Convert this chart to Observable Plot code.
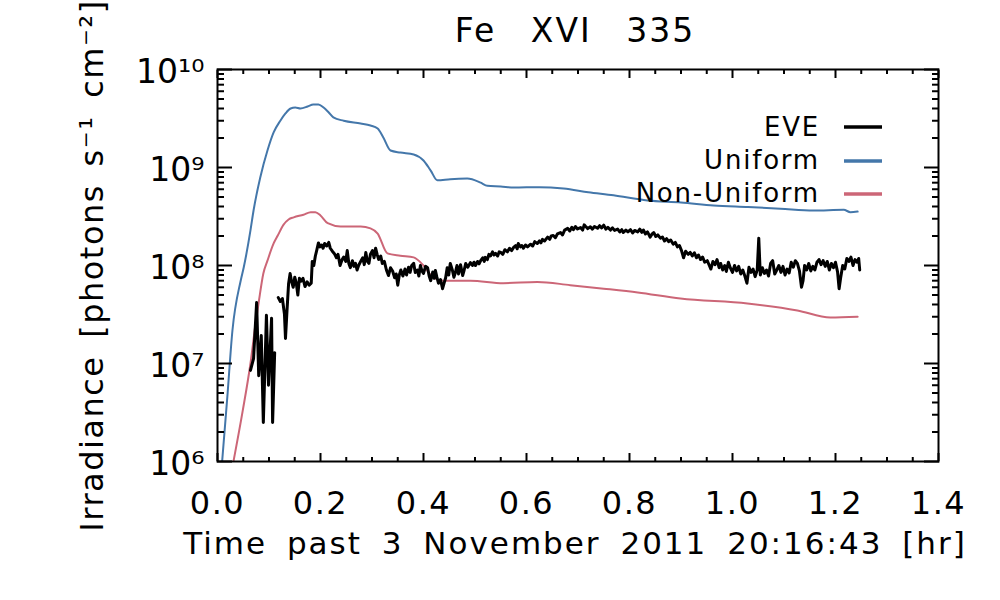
<!DOCTYPE html>
<html><head><meta charset="utf-8">
<script src="https://cdn.jsdelivr.net/npm/d3@7"></script>
<script src="https://cdn.jsdelivr.net/npm/@observablehq/plot@0.6"></script>
<style>
body{margin:0;background:#fff;}
#wrap{position:relative;width:1000px;height:600px;}
#wrap svg{position:absolute;left:0;top:0;}
</style>
</head><body>
<div id="wrap"></div>
<script>
const titleText = "Fe XVI 335";
const xLabel = "Time past 3 November 2011 20:16:43 [hr]";
const yLabel = "Irradiance [photons s⁻¹ cm⁻²]";

const xTicks = [0, 0.2, 0.4, 0.6, 0.8, 1.0, 1.2, 1.4];
const xTickLabels = ["0.0","0.2","0.4","0.6","0.8","1.0","1.2","1.4"];
const yTicks = [1e6, 1e7, 1e8, 1e9, 1e10];
const yTickLabels = ["10⁶","10⁷","10⁸","10⁹","10¹⁰"];

const legendNames = ["EVE", "Uniform", "Non-Uniform"];
const legendColors = ["#000000", "#4477AA", "#CC6677"];

// Uniform model
const uniformT = [0.009,0.019,0.029,0.045,0.051,0.064,0.070,0.083,0.097,0.109,0.122,0.132,0.142,0.151,0.161,0.175,0.186,0.196,0.206,0.216,0.225,0.245,0.278,0.297,0.311,0.322,0.336,0.355,0.381,0.400,0.414,0.427,0.452,0.485,0.511,0.524,0.550,0.575,0.625,0.672,0.720,0.769,0.835,0.900,0.963,1.030,1.093,1.157,1.216,1.229,1.243];
const uniformV = [1.0e6,4.5e6,2.17e7,7.0e7,9.6e7,2.28e8,3.64e8,7.9e8,1.49e9,2.28e9,3.0e9,3.56e9,4.0e9,4.09e9,4.0e9,4.19e9,4.4e9,4.4e9,4.09e9,3.64e9,3.24e9,3.0e9,2.81e9,2.68e9,2.5e9,2.02e9,1.49e9,1.42e9,1.36e9,1.18e9,9.3e8,7.4e8,7.6e8,7.7e8,7.0e8,6.5e8,6.4e8,6.25e8,6.3e8,6.1e8,5.6e8,5.2e8,4.6e8,4.4e8,4.1e8,3.95e8,3.8e8,3.64e8,3.7e8,3.5e8,3.55e8];

// Non-uniform model
const nonUniformT = [0.031,0.049,0.064,0.074,0.080,0.089,0.097,0.109,0.117,0.128,0.138,0.148,0.167,0.181,0.190,0.200,0.214,0.239,0.278,0.297,0.311,0.330,0.355,0.381,0.400,0.419,0.439,0.491,0.555,0.621,0.685,0.750,0.816,0.899,1.029,1.126,1.190,1.243];
const nonUniformV = [1.0e6,3.3e6,1.0e7,2.56e7,4.2e7,8.3e7,1.12e8,1.68e8,2.02e8,2.6e8,2.95e8,3.1e8,3.3e8,3.5e8,3.5e8,3.24e8,2.7e8,2.5e8,2.5e8,2.39e8,2.12e8,1.33e8,1.26e8,1.21e8,1.0e8,7.5e7,7.0e7,7.0e7,6.6e7,6.8e7,6.3e7,5.8e7,5.3e7,4.6e7,4.1e7,3.48e7,2.95e7,3.0e7];

// EVE observation (NaN marks the data gap)
const eveT = [0.064,0.070,0.076,0.080,0.085,0.089,0.095,0.099,0.105,0.107,0.111,0.114,
0.118,0.122,0.126,0.130,0.132,0.135,0.138,0.141,0.144,0.147,0.150,0.153,0.156,0.159,0.162,0.166,0.170,0.174,0.178,0.182,0.184,0.187,0.190,0.193,0.196,0.199,0.202,0.205,0.208,0.212,0.216,0.219,0.223,0.227,0.231,0.234,0.238,0.242,0.245,0.249,0.252,0.255,0.258,0.262,0.265,0.268,0.271,0.274,0.278,0.282,0.285,0.288,0.291,0.294,0.297,0.301,0.304,0.307,0.310,0.313,0.317,0.320,0.324,0.328,0.332,0.336,0.340,0.344,0.347,0.350,0.353,0.356,0.360,0.364,0.367,0.371,0.374,0.377,0.381,0.384,0.388,0.391,0.394,0.397,0.400,0.404,0.408,0.411,0.414,0.418,0.421,0.423,0.426,0.429,0.433,0.437,0.440,0.443,0.446,0.449,0.452,0.456,0.459,0.462,0.465,0.468,0.472,0.476,0.479,0.482,0.486,0.491,0.495,0.498,0.501,0.505,0.508,0.511,0.515,0.518,0.520,0.524,0.527,0.530,0.534,0.537,0.540,0.544,0.547,0.550,0.554,0.558,0.563,0.567,0.571,0.575,0.579,0.582,0.584,0.588,0.591,0.594,0.598,0.602,0.608,0.612,0.616,0.621,0.625,0.628,0.631,0.635,0.641,0.645,0.648,0.652,0.656,0.660,0.666,0.670,0.674,0.680,0.684,0.688,0.691,0.695,0.699,0.705,0.709,0.712,0.715,0.719,0.724,0.728,0.732,0.738,0.742,0.746,0.750,0.754,0.758,0.763,0.767,0.771,0.777,0.781,0.785,0.788,0.793,0.797,0.802,0.806,0.810,0.816,0.820,0.824,0.827,0.831,0.835,0.840,0.844,0.847,0.851,0.855,0.860,0.864,0.868,0.872,0.876,0.880,0.885,0.889,0.893,0.897,0.901,0.905,0.909,0.914,0.918,0.922,0.926,0.930,0.934,0.938,0.942,0.946,0.951,0.955,0.958,0.962,0.966,0.970,0.974,0.977,0.981,0.985,0.988,0.992,0.996,1.000,1.004,1.008,1.012,1.016,1.020,1.024,1.028,1.032,1.036,1.040,1.044,1.048,1.051,1.054,1.058,1.062,1.066,1.070,1.074,1.078,1.082,1.086,1.090,1.094,1.098,1.102,1.106,1.110,1.114,1.118,1.122,1.126,1.130,1.134,1.137,1.140,1.144,1.148,1.152,1.156,1.160,1.164,1.168,1.172,1.176,1.180,1.184,1.188,1.192,1.196,1.200,1.204,1.207,1.210,1.214,1.218,1.222,1.226,1.230,1.234,1.238,1.242,1.245,1.247];
const eveV = [8.5e6,1.12e7,4.2e7,7.5e6,1.93e7,2.5e6,3.1e7,6.0e6,2.9e7,2.5e6,1.29e7,NaN,
4.7e7,4.3e7,4.6e7,3.2e7,1.8e7,3.5e7,6.5e7,8.3e7,6.8e7,6.0e7,7.6e7,6.6e7,5.0e7,7.4e7,6.9e7,7.4e7,6.1e7,6.8e7,6.3e7,6.6e7,1.1e8,1.0e8,1.25e8,1.45e8,1.7e8,1.55e8,1.62e8,1.5e8,1.68e8,1.58e8,1.72e8,1.5e8,1.4e8,1.32e8,1.2e8,1.3e8,1.0e8,1.15e8,1.22e8,1.1e8,1.42e8,1.05e8,9.5e7,1.12e8,9.8e7,1.05e8,9.0e7,1.0e8,1.1e8,1.2e8,1.02e8,1.36e8,1.1e8,1.05e8,1.3e8,1.42e8,1.2e8,1.5e8,1.3e8,1.15e8,1.25e8,1.05e8,1.1e8,9.0e7,7.9e7,9.5e7,8.8e7,7.5e7,8.2e7,6.3e7,8.0e7,9.0e7,7.8e7,9.2e7,8.0e7,9.6e7,8.5e7,1.0e8,1.05e8,8.5e7,9.0e7,7.8e7,1.0e8,8.8e7,8.3e7,9.8e7,9.5e7,7.8e7,7.0e7,8.6e7,7.4e7,8.9e7,7.6e7,6.6e7,7.2e7,5.8e7,6.6e7,7.5e7,9.5e7,8.0e7,1.05e8,9.0e7,7.6e7,8.5e7,1.0e8,8.2e7,1.02e8,7.9e7,9.0e7,1.05e8,9.6e7,1.07e8,1.0e8,1.08e8,1.0e8,1.1e8,1.04e8,1.12e8,1.2e8,1.1e8,1.21e8,1.15e8,1.3e8,1.25e8,1.38e8,1.28e8,1.33e8,1.25e8,1.38e8,1.36e8,1.3e8,1.45e8,1.38e8,1.5e8,1.42e8,1.53e8,1.6e8,1.48e8,1.68e8,1.55e8,1.6e8,1.5e8,1.62e8,1.55e8,1.65e8,1.58e8,1.75e8,1.68e8,1.78e8,1.7e8,1.85e8,1.78e8,1.95e8,1.85e8,2.0e8,2.02e8,1.92e8,2.1e8,2.17e8,2.05e8,2.3e8,2.39e8,2.25e8,2.45e8,2.32e8,2.5e8,2.36e8,2.44e8,2.3e8,2.6e8,2.5e8,2.38e8,2.48e8,2.35e8,2.5e8,2.4e8,2.55e8,2.42e8,2.58e8,2.35e8,2.45e8,2.3e8,2.42e8,2.28e8,2.35e8,2.2e8,2.32e8,2.17e8,2.3e8,2.2e8,2.32e8,2.15e8,2.28e8,2.2e8,2.35e8,2.18e8,2.3e8,2.1e8,2.2e8,1.95e8,2.1e8,2.17e8,1.98e8,2.05e8,1.9e8,1.95e8,1.78e8,1.88e8,1.75e8,1.82e8,1.65e8,1.72e8,1.55e8,1.6e8,1.42e8,1.2e8,1.4e8,1.3e8,1.36e8,1.25e8,1.35e8,1.2e8,1.28e8,1.15e8,1.22e8,1.08e8,1.12e8,1.0e8,9.2e7,1.1e8,1.02e8,1.15e8,9.5e7,1.05e8,9.0e7,1.0e8,8.7e7,1.08e8,9.4e7,8.5e7,1.0e8,8.8e7,9.8e7,8.2e7,9.0e7,7.8e7,6.6e7,9.6e7,8.5e7,9.2e7,7.7e7,9.0e7,1.9e8,8.0e7,9.5e7,8.3e7,9.0e7,7.8e7,1.05e8,1.12e8,8.2e7,9.0e7,1.0e8,8.5e7,9.8e7,8.0e7,9.2e7,8.4e7,1.08e8,9.6e7,1.12e8,1.05e8,8.8e7,6.0e7,7.0e7,1.0e8,9.0e7,1.05e8,8.8e7,9.8e7,9.0e7,1.08e8,1.15e8,1.02e8,1.12e8,9.8e7,1.1e8,9.0e7,1.05e8,9.5e7,1.08e8,8.6e7,5.8e7,7.5e7,1.0e8,9.2e7,1.18e8,1.1e8,1.22e8,1.0e8,1.15e8,1.08e8,1.18e8,9.0e7];

const uniform = uniformT.map((t, i) => ({t, v: uniformV[i]}));
const nonUniform = nonUniformT.map((t, i) => ({t, v: nonUniformV[i]}));
const eve = eveT.map((t, i) => ({t, v: eveV[i]}));

const xMinor = d3.range(0, 1.4001, 0.05).filter(v => Math.abs(v / 0.2 - Math.round(v / 0.2)) > 1e-6);
const yMinor = [];
for (let e = 6; e < 10; e++) for (let m = 2; m <= 9; m++) yMinor.push(m * Math.pow(10, e));

const xFmt = new Map(xTicks.map((v, i) => [v, xTickLabels[i]]));
const yFmt = new Map(yTicks.map((v, i) => [v, yTickLabels[i]]));

const chart = Plot.plot({
  width: 1000,
  height: 600,
  marginLeft: 217,
  marginRight: 62,
  marginTop: 69,
  marginBottom: 139,
  style: {fontFamily: "DejaVu Sans", color: "black", background: "white"},
  x: {domain: [0, 1.4]},
  y: {type: "log", domain: [1e6, 1e10]},
  marks: [
    Plot.line(nonUniform, {x: "t", y: "v", stroke: legendColors[2], strokeWidth: 2, clip: true, curve: "monotone-x"}),
    Plot.line(uniform, {x: "t", y: "v", stroke: legendColors[1], strokeWidth: 2, clip: true, curve: "monotone-x"}),
    Plot.line(eve, {x: "t", y: "v", stroke: legendColors[0], strokeWidth: 3, clip: true}),
    Plot.frame({stroke: "black", strokeWidth: 2}),
    Plot.axisX(xTicks, {anchor: "bottom", tickSize: -8, fill: "none", strokeWidth: 2, label: null}),
    Plot.axisX(xTicks, {anchor: "top", tickSize: -8, fill: "none", strokeWidth: 2, label: null}),
    Plot.axisX(xMinor, {anchor: "bottom", tickSize: -4, fill: "none", strokeWidth: 2, label: null}),
    Plot.axisX(xMinor, {anchor: "top", tickSize: -4, fill: "none", strokeWidth: 2, label: null}),
    Plot.axisY(yTicks, {anchor: "left", tickSize: -15, fill: "none", strokeWidth: 2, label: null}),
    Plot.axisY(yTicks, {anchor: "right", tickSize: -15, fill: "none", strokeWidth: 2, label: null}),
    Plot.axisY(yMinor, {anchor: "left", tickSize: -7, fill: "none", strokeWidth: 2, label: null}),
    Plot.axisY(yMinor, {anchor: "right", tickSize: -7, fill: "none", strokeWidth: 2, label: null}),
    Plot.axisX(xTicks, {anchor: "bottom", tickSize: 0, tickPadding: 30, fontSize: 32, tickFormat: d => xFmt.get(d), label: null}),
    Plot.axisY(yTicks, {anchor: "left", tickSize: 0, tickPadding: 13, fontSize: 33, dy: 3, tickFormat: d => yFmt.get(d), label: null}),
    Plot.text([titleText], {text: d => d, frameAnchor: "top", lineAnchor: "middle", textAnchor: "middle", dy: -38, dx: -3, fontSize: 33}),
    Plot.text([xLabel], {text: d => d, frameAnchor: "bottom", lineAnchor: "middle", textAnchor: "middle", dy: 83, dx: -3, fontSize: 31}),
    Plot.text([yLabel], {text: d => d, frameAnchor: "left", lineAnchor: "middle", textAnchor: "middle", dx: -125, rotate: -90, fontSize: 32})
  ]
});
document.getElementById("wrap").appendChild(chart);

// Wide letter and word spacing, as in the reference's lettering
const spacing = new Map([
  [titleText, ["2px", "22px"]],
  [xLabel, ["2px", "8px"]],
  [yLabel, ["1.5px", "6px"]]
]);
d3.select(chart).selectAll("text").each(function() {
  const s = this.textContent;
  if (spacing.has(s)) {
    const [ls, ws] = spacing.get(s);
    d3.select(this).style("letter-spacing", ls).style("word-spacing", ws);
  } else if (xTickLabels.includes(s)) {
    d3.select(this).style("letter-spacing", "1.5px");
  }
});

// Legend
const leg = d3.select("#wrap").append("svg")
  .attr("width", 1000).attr("height", 600)
  .style("pointer-events", "none")
  .style("font-family", "DejaVu Sans");
const rowBase = [136, 169, 202];
const rowLine = [127, 161, 194];
legendNames.forEach((name, i) => {
  leg.append("text").attr("x", 820).attr("y", rowBase[i])
    .attr("text-anchor", "end").attr("font-size", 26)
    .style("letter-spacing", "1.8px").text(name);
  leg.append("line").attr("x1", 844).attr("x2", 882)
    .attr("y1", rowLine[i]).attr("y2", rowLine[i])
    .attr("stroke", legendColors[i]).attr("stroke-width", 3.5);
});
</script>
</body></html>
